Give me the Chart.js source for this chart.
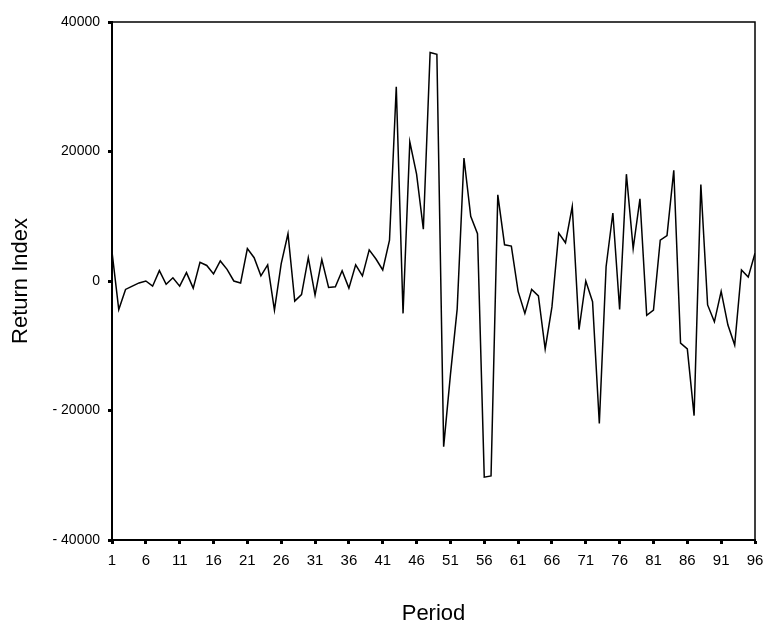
<!DOCTYPE html>
<html>
<head>
<meta charset="utf-8">
<script src="https://cdn.jsdelivr.net/npm/chart.js@4"></script>
<style>
  html, body { margin: 0; padding: 0; background: #fff; }
  #wrap { width: 763px; height: 626px; position: relative; }
</style>
</head>
<body>
<div id="wrap"><canvas id="c" width="763" height="626"></canvas></div>
<script>
const periods = Array.from({length: 96}, (_, i) => i + 1);
const returnIndex = [
  4500, -4400, -1300, -800, -300, 0, -800, 1600, -500, 500,
  -800, 1300, -1100, 2900, 2400, 1100, 3100, 1800, 0, -300,
  5000, 3600, 800, 2500, -4500, 2700, 7300, -3100, -2100, 3600,
  -2200, 3300, -1000, -900, 1600, -1100, 2500, 800, 4800, 3400,
  1700, 6300, 30000, -5000, 21500, 16500, 8000, 35300, 35000, -25600,
  -14500, -4300, 19000, 10000, 7300, -30300, -30100, 13300, 5600, 5400,
  -1600, -5000, -1300, -2300, -10500, -4000, 7400, 5900, 11500, -7500,
  0, -3200, -22000, 2200, 10500, -4400, 16500, 5000, 12700, -5300,
  -4500, 6300, 7000, 17100, -9600, -10500, -20800, 14900, -3700, -6300,
  -1600, -6800, -9900, 1700, 600, 4300
];
const xTickValues = [1, 6, 11, 16, 21, 26, 31, 36, 41, 46, 51, 56, 61, 66, 71, 76, 81, 86, 91, 96];
const yTickValues = [-40000, -20000, 0, 20000, 40000];
const xTitle = 'Period';
const yTitle = 'Return Index';

const frameAndTitles = {
  id: 'frameAndTitles',
  afterDraw(chart) {
    const {ctx, chartArea: a} = chart;
    ctx.save();
    ctx.strokeStyle = '#000';
    ctx.lineWidth = 1.5;
    ctx.strokeRect(a.left, a.top, a.right - a.left, a.bottom - a.top);
    ctx.fillStyle = '#000';
    ctx.font = '22px "Liberation Sans", Arial, sans-serif';
    ctx.textAlign = 'center';
    // x title
    ctx.textBaseline = 'alphabetic';
    ctx.fillText(xTitle, (a.left + a.right) / 2, a.bottom + 80);
    // y title (rotated)
    ctx.translate(21, (a.top + a.bottom) / 2);
    ctx.rotate(-Math.PI / 2);
    ctx.textBaseline = 'middle';
    ctx.fillText(yTitle, 0, 0);
    ctx.restore();
  }
};

new Chart(document.getElementById('c'), {
  type: 'line',
  data: {
    labels: periods,
    datasets: [{
      data: returnIndex,
      borderColor: '#000',
      borderWidth: 1.5,
      pointRadius: 0,
      tension: 0,
      fill: false
    }]
  },
  plugins: [frameAndTitles],
  options: {
    responsive: false,
    animation: false,
    layout: { padding: { left: 0, right: 8, top: 22, bottom: 0 } },
    plugins: { legend: { display: false }, tooltip: { enabled: false } },
    scales: {
      x: {
        type: 'linear',
        min: 1,
        max: 96,
        afterBuildTicks: (s) => { s.ticks = xTickValues.map(v => ({value: v})); },
        afterFit: (s) => { s.height = 86; s.paddingLeft = 0; s.paddingRight = 0; },
        grid: { drawOnChartArea: false, drawTicks: true, tickLength: 4, tickWidth: 3, tickColor: '#000' },
        border: { display: true, color: '#000', width: 2 },
        ticks: { color: '#000', font: { family: '"Liberation Sans", Arial, sans-serif', size: 15 }, padding: 8, maxRotation: 0, autoSkip: false }
      },
      y: {
        type: 'linear',
        min: -40000,
        max: 40000,
        afterBuildTicks: (s) => { s.ticks = yTickValues.map(v => ({value: v})); },
        afterFit: (s) => { s.width = 112; },
        grid: { drawOnChartArea: false, drawTicks: true, tickLength: 4, tickWidth: 3, tickColor: '#000' },
        border: { display: true, color: '#000', width: 2 },
        ticks: {
          color: '#000', font: { family: '"Liberation Sans", Arial, sans-serif', size: 14 }, padding: 8,
          callback: (v) => v < 0 ? '- ' + Math.abs(v) : String(v)
        }
      }
    }
  }
});
</script>
</body>
</html>
